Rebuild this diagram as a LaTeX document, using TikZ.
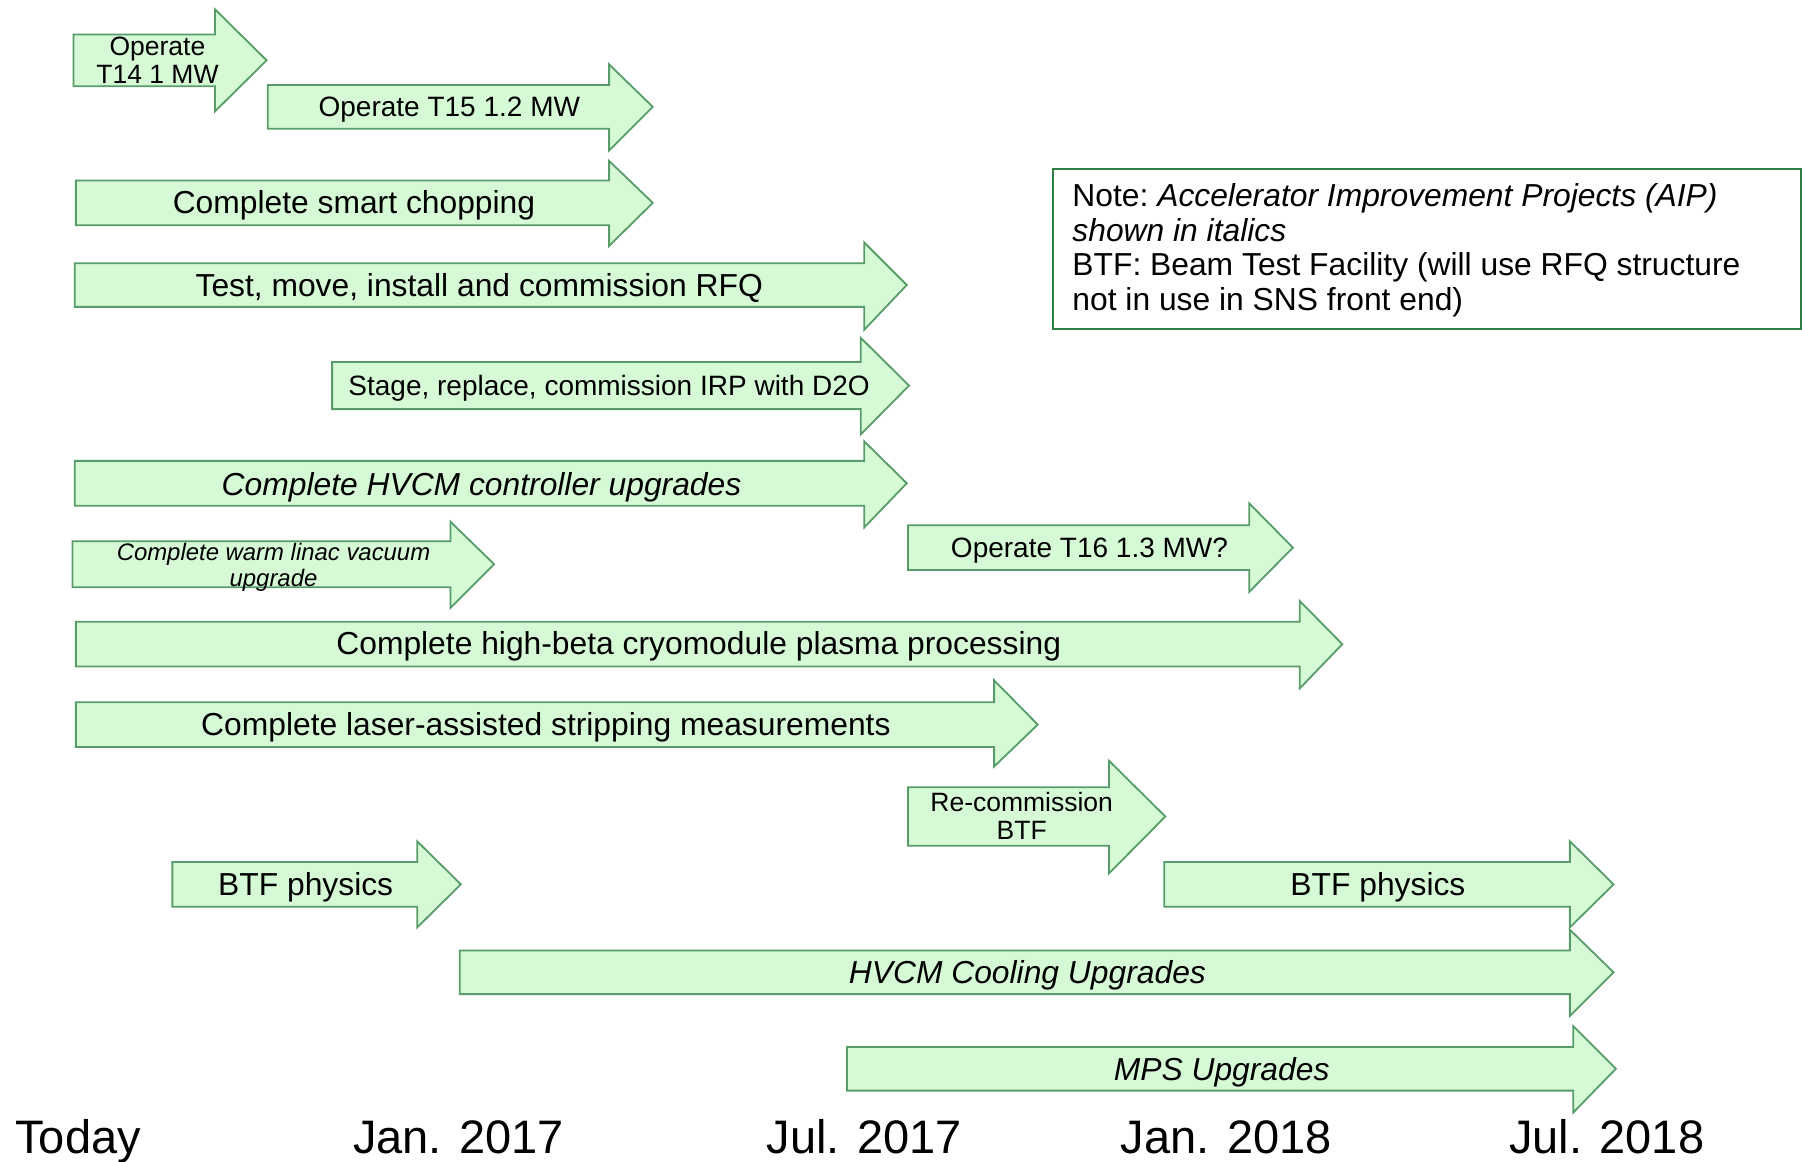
\documentclass[tikz,border=0pt]{standalone}
\usepackage{fontspec}
\setmainfont{Liberation Sans}
\definecolor{gfill}{HTML}{D6FAD6}
\definecolor{gline}{HTML}{589C69}
\definecolor{nline}{HTML}{2E7D46}
\newcommand{\garrow}[7]{%
  \draw[garrowbody] (#1,#2) -- (#4,#2) -- (#4,#5) -- (#7,{(#2+#3)/2}) -- (#4,#6) -- (#4,#3) -- (#1,#3) -- cycle;}
\tikzset{
  garrowbody/.style={draw=gline, fill=gfill, line width=1.8pt, line join=miter},
  lblbig/.style={font=\fontsize{31.8}{34}\selectfont, text height=22.8pt, text depth=0pt, inner sep=0pt, align=center},
  lblsmall/.style={font=\fontsize{28}{30}\selectfont, text height=20pt, text depth=0pt, inner sep=0pt, align=center},
  lbltwo/.style={font=\fontsize{26.5}{27.6}\selectfont, text height=19pt, text depth=0pt, inner sep=0pt, align=center},
  lblwarm/.style={font=\fontsize{23.9}{26.4}\selectfont\itshape, text height=17pt, text depth=0pt, inner sep=0pt, align=center},
  lbltime/.style={font=\fontsize{47}{50}\selectfont, text height=33.6pt, text depth=0pt, inner sep=0pt},
  notetext/.style={font=\fontsize{31.8}{34.5}\selectfont, inner sep=0pt, align=left, anchor=north west}
}
\begin{document}
\begin{tikzpicture}[x=1.1492pt, y=-1.1492pt]
\useasboundingbox (0,0) rectangle (1568,1010.3);
% arrows
\garrow{64}{30}{75}{187}{8}{97}{232}
\garrow{233}{74}{112}{530}{56}{131}{568}
\garrow{66}{157}{196}{530}{140}{214}{568}
\garrow{65}{229}{267}{752}{211}{287}{789}
\garrow{289}{315}{356}{749}{294}{378}{791}
\garrow{65}{401}{440}{752}{384}{459}{789}
\garrow{63}{471}{511}{392}{454}{529}{430}
\garrow{790}{457}{496}{1087}{438}{515}{1125}
\garrow{66}{541}{580}{1131}{523}{599}{1168}
\garrow{66}{611}{650}{865}{592}{667}{903}
\garrow{790}{685}{736}{965}{662}{760}{1014}
\garrow{150}{750}{789}{363}{732}{807}{401}
\garrow{1013}{750}{789}{1366}{732}{807}{1404}
\garrow{400}{827}{865}{1366}{809}{884}{1404}
\garrow{737}{911}{949}{1369}{893}{968}{1406}
% labels
\node[lbltwo] (t14) at (137,64) {Operate\\T14 1 MW};
\node[lblsmall] (t15) at (391,93) {Operate T15 1.2 MW};
\node[lblbig] (chop) at (308,176) {Complete smart chopping};
\node[lblbig] (rfq) at (417,248) {Test, move, install and commission RFQ};
\node[lblsmall] (irp) at (530,335) {Stage, replace, commission IRP with D2O};
\node[lblbig, font=\fontsize{31.8}{34}\selectfont\itshape] (hvcmc) at (419,421) {Complete HVCM controller upgrades};
\node[lblwarm] (warm) at (238,503) {Complete warm linac vacuum\\upgrade};
\node[lblsmall] (t16) at (948,476) {Operate T16 1.3 MW?};
\node[lblbig] (beta) at (608,560) {Complete high-beta cryomodule plasma processing};
\node[lblbig] (laser) at (475,630) {Complete laser-assisted stripping measurements};
\node[lbltwo] (recom) at (889,722) {Re-commission\\BTF};
\node[lblbig] (btf1) at (266,769) {BTF physics};
\node[lblbig] (btf2) at (1199,769) {BTF physics};
\node[lblbig, font=\fontsize{31.8}{34}\selectfont\itshape] (cool) at (894,846) {HVCM Cooling Upgrades};
\node[lblbig, font=\fontsize{31.8}{34}\selectfont\itshape] (mps) at (1063,930) {MPS Upgrades};
% note box
\node[draw=nline, line width=1.8pt, minimum width=650.4*1.1492pt, minimum height=139*1.1492pt, anchor=north west, inner sep=0pt] (notebox) at (915.6,146.5) {};
\node[notetext] (note) at (933,159.5) {Note:~\textit{Accelerator Improvement Projects (AIP)}\\\textit{shown in italics}\\BTF: Beam Test Facility (will use RFQ structure\\not in use in SNS front end)};
% timeline
\node[lbltime] (today) at (68,989.5) {Today};
\node[lbltime] (jan17) at (399,989.5) {Jan. 2017};
\node[lbltime] (jul17) at (752,989.5) {Jul. 2017};
\node[lbltime] (jan18) at (1067,989.5) {Jan. 2018};
\node[lbltime] (jul18) at (1398,989.5) {Jul. 2018};
\end{tikzpicture}
\end{document}
